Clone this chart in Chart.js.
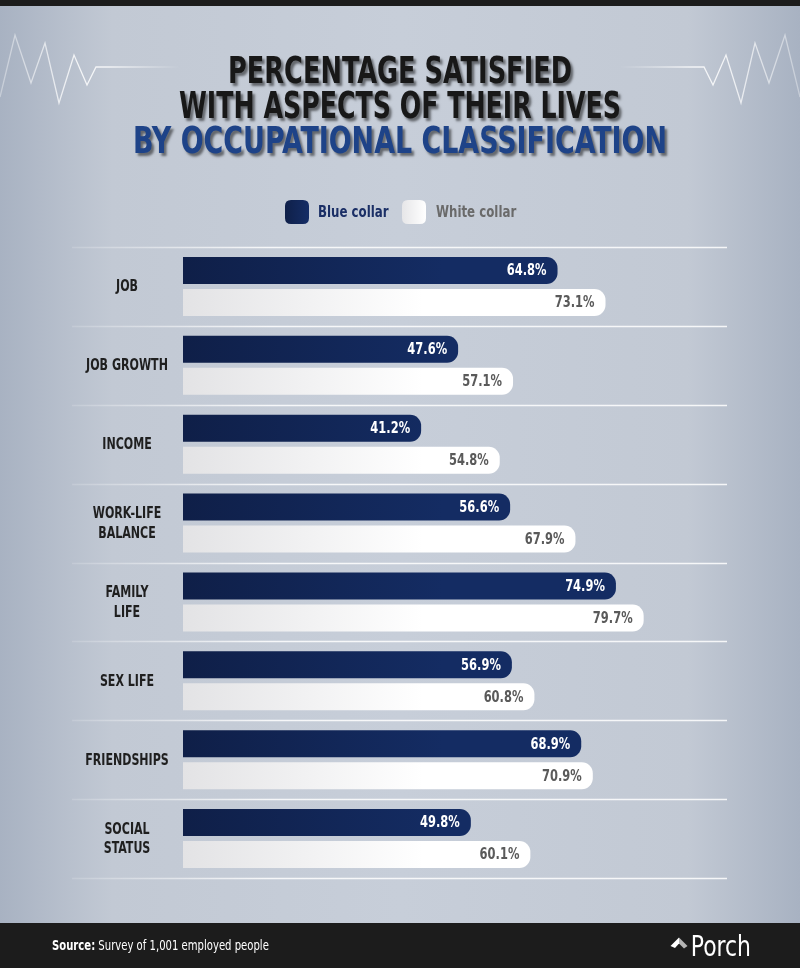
<!DOCTYPE html>
<html>
<head>
<meta charset="utf-8">
<script src="https://cdn.jsdelivr.net/npm/chart.js@4.4.1/dist/chart.umd.min.js"></script>
<style>
  html, body { margin: 0; padding: 0; background: #c6cdd8; }
  #wrap { width: 800px; height: 968px; position: relative; }
  canvas { display: block; }
</style>
</head>
<body>
<div id="wrap"><canvas id="c" width="800" height="968"></canvas></div>
<script>
// ---------- DATA ----------
const categories = [['JOB'], ['JOB GROWTH'], ['INCOME'], ['WORK-LIFE', 'BALANCE'], ['FAMILY', 'LIFE'], ['SEX LIFE'], ['FRIENDSHIPS'], ['SOCIAL', 'STATUS']];
const seriesNames = ['Blue collar', 'White collar'];
const blueCollar = [64.8, 47.6, 41.2, 56.6, 74.9, 56.9, 68.9, 49.8];
const whiteCollar = [73.1, 57.1, 54.8, 67.9, 79.7, 60.8, 70.9, 60.1];
const titleLines = ['PERCENTAGE SATISFIED', 'WITH ASPECTS OF THEIR LIVES', 'BY OCCUPATIONAL CLASSIFICATION'];
const sourceLabel = 'Source:';
const sourceText = ' Survey of 1,001 employed people';
const brandText = 'Porch';

// ---------- STYLE ----------
const FONT = '"DejaVu Sans Condensed", "Liberation Sans Narrow", "Roboto", sans-serif';
const W = 800, H = 968;
const NARROW = 0.82; // horizontal squeeze to mimic the condensed typeface

function blueGrad(chart) {
  const ca = chart.chartArea;
  if (!ca) return '#142c63';
  const g = chart.ctx.createLinearGradient(ca.left, 0, ca.left + 260, 0);
  g.addColorStop(0, '#0f1f48');
  g.addColorStop(1, '#142c63');
  return g;
}
function whiteGrad(chart) {
  const ca = chart.chartArea;
  if (!ca) return '#ffffff';
  const g = chart.ctx.createLinearGradient(ca.left, 0, ca.left + 240, 0);
  g.addColorStop(0, '#e3e3e5');
  g.addColorStop(1, '#ffffff');
  return g;
}

function textScaled(ctx, text, x, y, sx, align) {
  ctx.save();
  ctx.translate(x, y);
  ctx.scale(sx, 1);
  ctx.textAlign = align;
  ctx.fillText(text, 0, 0);
  ctx.restore();
  return ctx.measureText(text).width * sx;
}

function drawFitText(ctx, text, cx, baseline, targetW) {
  const w = ctx.measureText(text).width;
  ctx.textBaseline = 'alphabetic';
  textScaled(ctx, text, cx, baseline, targetW / w, 'center');
}

function roundRect(ctx, x, y, w, h, r) {
  ctx.beginPath();
  ctx.moveTo(x + r, y);
  ctx.lineTo(x + w - r, y);
  ctx.quadraticCurveTo(x + w, y, x + w, y + r);
  ctx.lineTo(x + w, y + h - r);
  ctx.quadraticCurveTo(x + w, y + h, x + w - r, y + h);
  ctx.lineTo(x + r, y + h);
  ctx.quadraticCurveTo(x, y + h, x, y + h - r);
  ctx.lineTo(x, y + r);
  ctx.quadraticCurveTo(x, y, x + r, y);
  ctx.closePath();
}

const backdropPlugin = {
  id: 'backdrop',
  beforeDraw(chart) {
    const ctx = chart.ctx;
    ctx.save();
    // background
    const bg = ctx.createLinearGradient(0, 0, W, 0);
    bg.addColorStop(0, '#a8b2c2');
    bg.addColorStop(0.14, '#c2c9d4');
    bg.addColorStop(0.5, '#c7ced9');
    bg.addColorStop(0.86, '#c2c9d4');
    bg.addColorStop(1, '#a8b2c2');
    ctx.fillStyle = bg;
    ctx.fillRect(0, 0, W, H);
    // top strip
    ctx.fillStyle = '#1c1c1c';
    ctx.fillRect(0, 0, W, 6);
    // heartbeat decorations
    const pts = [[0, 97], [15, 35], [31, 83], [45, 43], [59, 103], [74, 55], [87, 85], [96, 67], [180, 67]];
    [false, true].forEach(mirror => {
      const g = ctx.createLinearGradient(mirror ? W : 0, 0, mirror ? W - 180 : 180, 0);
      g.addColorStop(0, 'rgba(255,255,255,0.35)');
      g.addColorStop(0.45, 'rgba(255,255,255,0.85)');
      g.addColorStop(0.6, 'rgba(255,255,255,0.8)');
      g.addColorStop(1, 'rgba(255,255,255,0)');
      ctx.strokeStyle = g;
      ctx.lineWidth = 1.3;
      ctx.beginPath();
      pts.forEach((p, i) => {
        const x = mirror ? W - p[0] : p[0];
        if (i === 0) ctx.moveTo(x, p[1]); else ctx.lineTo(x, p[1]);
      });
      ctx.stroke();
    });
    // title
    const targets = [344, 442, 534];
    const baselines = [83, 118, 153];
    ctx.font = 'bold 37px ' + FONT;
    titleLines.forEach((t, i) => {
      ctx.shadowColor = 'rgba(0,0,0,0.5)';
      ctx.shadowOffsetX = 2.5;
      ctx.shadowOffsetY = 2.5;
      ctx.shadowBlur = 2.5;
      ctx.fillStyle = i < 2 ? '#181818' : '#1e4388';
      drawFitText(ctx, t, 400, baselines[i], targets[i]);
    });
    ctx.shadowColor = 'transparent';
    ctx.shadowOffsetX = 0; ctx.shadowOffsetY = 0; ctx.shadowBlur = 0;
    // legend
    const legendColors = ['#1b2f66', '#6a6a6a'];
    const boxX = [285, 402], textX = [318, 436];
    ctx.font = 'bold 16px ' + FONT;
    ctx.textBaseline = 'middle';
    const ly = 200, box = 24;
    seriesNames.forEach((n, i) => {
      const x = boxX[i];
      const g = ctx.createLinearGradient(x, 0, x + box, 0);
      if (i === 0) { g.addColorStop(0, '#0f2049'); g.addColorStop(1, '#152d66'); }
      else { g.addColorStop(0, '#e6e6e8'); g.addColorStop(1, '#ffffff'); }
      ctx.fillStyle = g;
      roundRect(ctx, x, ly, box, box, 6);
      ctx.fill();
      ctx.fillStyle = legendColors[i];
      textScaled(ctx, n, textX[i], ly + box / 2 + 1, NARROW, 'left');
    });
    // footer
    ctx.fillStyle = '#1c1c1c';
    ctx.fillRect(0, 923, W, H - 923);
    ctx.textBaseline = 'alphabetic';
    ctx.fillStyle = '#ffffff';
    ctx.font = 'bold 14px ' + FONT;
    const sw = textScaled(ctx, sourceLabel, 52, 950, 0.8, 'left');
    ctx.font = '14px ' + FONT;
    textScaled(ctx, sourceText, 52 + sw, 950, 0.8, 'left');
    // brand
    ctx.font = '29px ' + FONT;
    ctx.fillStyle = '#ffffff';
    textScaled(ctx, brandText, 751, 956, 0.84, 'right');
    ctx.beginPath();
    ctx.moveTo(670.5, 946); ctx.lineTo(679, 937.5); ctx.lineTo(679, 943.5); ctx.lineTo(675, 948); ctx.closePath();
    ctx.fillStyle = '#ffffff'; ctx.fill();
    ctx.beginPath();
    ctx.moveTo(679, 937.5); ctx.lineTo(687.5, 946); ctx.lineTo(684, 948.5); ctx.lineTo(679, 943.5); ctx.closePath();
    ctx.fillStyle = '#b4b4b4'; ctx.fill();
    ctx.restore();
  },
  beforeDatasetsDraw(chart) {
    const ctx = chart.ctx;
    const ys = chart.scales.y;
    const step = ys.getPixelForValue(1) - ys.getPixelForValue(0);
    ctx.save();
    const g = ctx.createLinearGradient(72, 0, 727, 0);
    g.addColorStop(0, 'rgba(255,255,255,0.15)');
    g.addColorStop(0.3, 'rgba(255,255,255,0.85)');
    g.addColorStop(1, 'rgba(255,255,255,0.85)');
    ctx.strokeStyle = g;
    ctx.lineWidth = 1.5;
    for (let i = 0; i <= categories.length; i++) {
      const y = Math.round(ys.getPixelForValue(0) - step / 2 + i * step) + 0.5;
      ctx.beginPath();
      ctx.moveTo(72, y);
      ctx.lineTo(727, y);
      ctx.stroke();
    }
    // category labels from the y scale's ticks
    ctx.font = 'bold 15px ' + FONT;
    ctx.fillStyle = '#1f1f1f';
    ctx.textBaseline = 'middle';
    const lh = 19.5;
    ys.ticks.forEach((t, i) => {
      const lbl = ys.getLabelForValue(t.value);
      const lines = Array.isArray(chart.data.labels[i]) ? chart.data.labels[i] : [lbl];
      const yc = ys.getPixelForTick(i);
      lines.forEach((ln, k) => {
        const y = yc + (k - (lines.length - 1) / 2) * lh + 1;
        textScaled(ctx, ln, 127, y, NARROW, 'center');
      });
    });
    ctx.restore();
  },
  afterDatasetsDraw(chart) {
    const ctx = chart.ctx;
    ctx.save();
    ctx.font = 'bold 15px ' + FONT;
    ctx.textBaseline = 'middle';
    chart.data.datasets.forEach((ds, di) => {
      const meta = chart.getDatasetMeta(di);
      ctx.fillStyle = di === 0 ? '#ffffff' : '#5a5a5a';
      meta.data.forEach((el, i) => {
        textScaled(ctx, ds.data[i].toFixed(1) + '%', el.x - 11, el.y + 1, 0.85, 'right');
      });
    });
    ctx.restore();
  }
};

new Chart(document.getElementById('c'), {
  type: 'bar',
  data: {
    labels: categories,
    datasets: [
      {
        label: seriesNames[0],
        data: blueCollar,
        backgroundColor: (c) => blueGrad(c.chart),
        borderRadius: 11,
        borderSkipped: 'start',
        barPercentage: 0.844,
        categoryPercentage: 0.81
      },
      {
        label: seriesNames[1],
        data: whiteCollar,
        backgroundColor: (c) => whiteGrad(c.chart),
        borderRadius: 11,
        borderSkipped: 'start',
        barPercentage: 0.844,
        categoryPercentage: 0.81
      }
    ]
  },
  options: {
    indexAxis: 'y',
    responsive: false,
    animation: false,
    devicePixelRatio: 1,
    layout: { padding: { top: 247, bottom: 90, right: 39, left: 0 } },
    scales: {
      x: { display: false, min: 0, max: 100, grid: { display: false } },
      y: {
        grid: { display: false, drawTicks: false },
        border: { display: false },
        afterFit: (s) => { s.width = 183; },
        ticks: { display: false }
      }
    },
    plugins: {
      legend: { display: false },
      tooltip: { enabled: false }
    }
  },
  plugins: [backdropPlugin]
});
</script>
</body>
</html>
